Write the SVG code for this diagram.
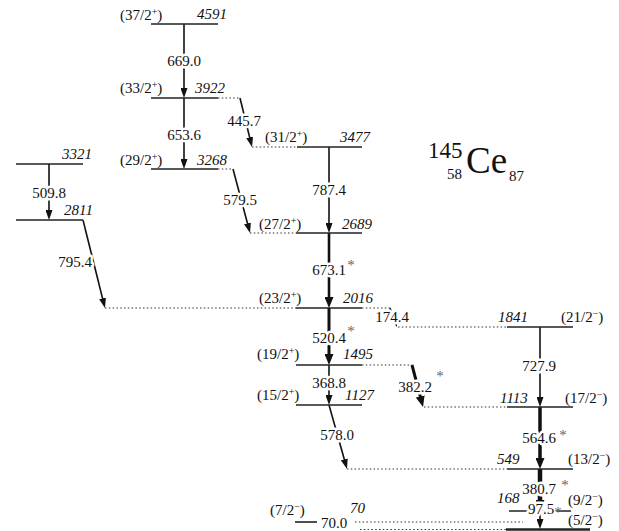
<svg xmlns="http://www.w3.org/2000/svg" width="619" height="531" viewBox="0 0 619 531" font-family="'Liberation Serif', 'Times New Roman', serif">
<style>
text{font-family:'Liberation Serif','DejaVu Serif','Times New Roman',serif;font-size:15px;fill:#111}
.e{font-style:italic}
.t{text-anchor:middle;stroke:#fff;stroke-width:5;paint-order:stroke;stroke-linejoin:round}
.s{fill:#666;text-anchor:middle}
.lv{stroke:#222;stroke-width:1.6;fill:none}
.dt{stroke:#333;stroke-width:1.2;stroke-dasharray:1.5 2.3;fill:none}
.tr{stroke:#111;stroke-width:1.6;fill:none;marker-end:url(#ah)}
.tk{stroke:#111;fill:none;marker-end:url(#ahb)}
.sp{font-size:10px}
</style>
<defs>
<marker id="ah" markerUnits="userSpaceOnUse" markerWidth="10" markerHeight="7" viewBox="0 0 10 7" refX="4" refY="3.5" orient="auto"><path d="M0,0 L10,3.5 L0,7 z" fill="#111"/></marker>
<marker id="ahb" markerUnits="userSpaceOnUse" markerWidth="11" markerHeight="9" viewBox="0 0 11 9" refX="5" refY="4.5" orient="auto"><path d="M0,0 L11,4.5 L0,9 z" fill="#111"/></marker>
</defs>
<g id="title">
<text x="428" y="158" style="font-size:23px">145</text>
<text x="466" y="173" style="font-size:37px">Ce</text>
<text x="462" y="179" text-anchor="end">58</text>
<text x="509" y="181">87</text>
</g>
<g id="connectors">
<line class="tr" x1="184" y1="24" x2="184" y2="92"/>
<line class="tr" x1="184" y1="98" x2="184" y2="163"/>
<line class="tr" x1="240" y1="98" x2="250.6" y2="141.2"/>
<line class="tr" x1="329" y1="147" x2="329" y2="227"/>
<line class="tr" x1="233" y1="169" x2="248.5" y2="227.2"/>
<line class="tk" style="stroke-width:2.6" x1="329" y1="233" x2="329" y2="302"/>
<line class="tr" x1="49" y1="164" x2="49" y2="214"/>
<line class="tr" x1="83" y1="220" x2="103.5" y2="302.2"/>
<line class="tk" style="stroke-width:3" x1="329" y1="308" x2="329" y2="359"/>
<line class="tr" x1="390" y1="308" x2="394.9" y2="321.4"/>
<line class="tr" x1="540" y1="327" x2="540" y2="401"/>
<line class="tr" x1="329" y1="365" x2="329" y2="399"/>
<line class="tk" style="stroke-width:3" x1="412" y1="365" x2="421.5" y2="401.2"/>
<line class="tr" x1="329" y1="405" x2="345.4" y2="463.2"/>
<line class="tk" style="stroke-width:3.5" x1="540" y1="407" x2="540" y2="463"/>
<line class="tk" style="stroke-width:4.5" x1="540" y1="469" x2="540" y2="505"/>
<line class="tr" x1="540" y1="511" x2="540" y2="523"/>
</g>
<g id="l4591"><line class="lv" x1="151" y1="24" x2="218" y2="24"/><text x="120" y="20">(37/2<tspan class="sp" dy="-5">+</tspan><tspan dy="5">)</tspan></text><text class="e" x="197" y="19">4591</text></g>
<g id="l3922"><line class="lv" x1="151" y1="98" x2="218" y2="98"/><line class="dt" x1="218" y1="98" x2="240" y2="98"/><text x="120" y="93">(33/2<tspan class="sp" dy="-5">+</tspan><tspan dy="5">)</tspan></text><text class="e" x="195" y="93">3922</text></g>
<g id="l3268"><line class="lv" x1="151" y1="169" x2="218" y2="169"/><line class="dt" x1="218" y1="169" x2="233" y2="169"/><text x="120" y="165">(29/2<tspan class="sp" dy="-5">+</tspan><tspan dy="5">)</tspan></text><text class="e" x="197" y="165">3268</text></g>
<g id="l3477"><line class="dt" x1="252" y1="147" x2="297" y2="147"/><line class="lv" x1="297" y1="147" x2="362" y2="147"/><text x="265" y="142">(31/2<tspan class="sp" dy="-5">+</tspan><tspan dy="5">)</tspan></text><text class="e" x="340" y="142">3477</text></g>
<g id="l2689"><line class="dt" x1="250" y1="233" x2="296" y2="233"/><line class="lv" x1="296" y1="233" x2="362" y2="233"/><text x="259" y="229">(27/2<tspan class="sp" dy="-5">+</tspan><tspan dy="5">)</tspan></text><text class="e" x="342" y="229">2689</text></g>
<g id="l3321"><line class="lv" x1="16" y1="164" x2="83" y2="164"/><text class="e" x="62" y="159">3321</text></g>
<g id="l2811"><line class="lv" x1="16" y1="220" x2="83" y2="220"/><text class="e" x="64" y="215">2811</text></g>
<g id="l2016"><line class="dt" x1="105" y1="308" x2="296" y2="308"/><line class="lv" x1="296" y1="308" x2="362" y2="308"/><line class="dt" x1="362" y1="308" x2="390" y2="308"/><text x="259" y="303">(23/2<tspan class="sp" dy="-5">+</tspan><tspan dy="5">)</tspan></text><text class="e" x="343" y="303">2016</text></g>
<g id="l1841"><line class="dt" x1="398" y1="327" x2="507" y2="327"/><line class="lv" x1="507" y1="327" x2="573" y2="327"/><text class="e" x="498" y="322">1841</text><text x="561" y="322">(21/2<tspan class="sp" dy="-5">−</tspan><tspan dy="5">)</tspan></text></g>
<g id="l1495"><line class="lv" x1="296" y1="365" x2="362" y2="365"/><line class="dt" x1="362" y1="365" x2="412" y2="365"/><text x="257" y="359">(19/2<tspan class="sp" dy="-5">+</tspan><tspan dy="5">)</tspan></text><text class="e" x="343" y="359">1495</text></g>
<g id="l1127"><line class="lv" x1="296" y1="405" x2="362" y2="405"/><text x="257" y="400">(15/2<tspan class="sp" dy="-5">+</tspan><tspan dy="5">)</tspan></text><text class="e" x="345" y="400">1127</text></g>
<g id="l1113"><line class="dt" x1="424" y1="407" x2="507" y2="407"/><line class="lv" x1="507" y1="407" x2="573" y2="407"/><text class="e" x="500" y="403">1113</text><text x="565" y="403">(17/2<tspan class="sp" dy="-5">−</tspan><tspan dy="5">)</tspan></text></g>
<g id="l549"><line class="dt" x1="347" y1="469" x2="507" y2="469"/><line class="lv" x1="507" y1="469" x2="573" y2="469"/><text class="e" x="497" y="464">549</text><text x="568" y="464">(13/2<tspan class="sp" dy="-5">−</tspan><tspan dy="5">)</tspan></text></g>
<g id="l168"><line class="lv" x1="509" y1="511" x2="571" y2="511"/><text class="e" x="497" y="503">168</text><text x="568" y="505">(9/2<tspan class="sp" dy="-5">−</tspan><tspan dy="5">)</tspan></text></g>
<g id="l70"><line class="lv" x1="295" y1="522" x2="317" y2="522"/><line class="dt" x1="355" y1="522" x2="523" y2="522"/><text x="270" y="515">(7/2<tspan class="sp" dy="-5">−</tspan><tspan dy="5">)</tspan></text><text class="e" x="350" y="513">70</text></g>
<g id="l0"><line class="dt" x1="360" y1="529.5" x2="506" y2="529.5"/><line class="lv" style="stroke-width:2.6" x1="506" y1="529.5" x2="590" y2="529.5"/><text x="568" y="525">(5/2<tspan class="sp" dy="-5">−</tspan><tspan dy="5">)</tspan></text></g>
<g id="labels">
<text class="t" x="184" y="66">669.0</text>
<text class="t" x="184" y="140">653.6</text>
<text class="t" x="244" y="126">445.7</text>
<text class="t" x="329" y="195">787.4</text>
<text class="t" x="240" y="205">579.5</text>
<text class="t" x="49" y="198">509.8</text>
<text class="t" x="75" y="267">795.4</text>
<text class="t" x="329" y="275">673.1</text>
<text class="t" x="392" y="322">174.4</text>
<text class="t" x="329" y="343">520.4</text>
<text class="t" x="539" y="371">727.9</text>
<text class="t" x="329" y="388">368.8</text>
<text class="t" x="415" y="392">382.2</text>
<text class="t" x="337" y="440">578.0</text>
<text class="t" x="539" y="443">564.6</text>
<text class="t" x="539" y="494">380.7</text>
<text class="t" x="541" y="514">97.5</text>
<text class="t" x="334" y="528">70.0</text>
<text class="s" x="351" y="270">*</text>
<text class="s" x="351" y="336">*</text>
<text class="s" x="440" y="381">*</text>
<text class="s" x="563" y="440">*</text>
<text class="s" x="565" y="490">*</text>
<text class="s" x="558" y="517">*</text>
</g>
</svg>
